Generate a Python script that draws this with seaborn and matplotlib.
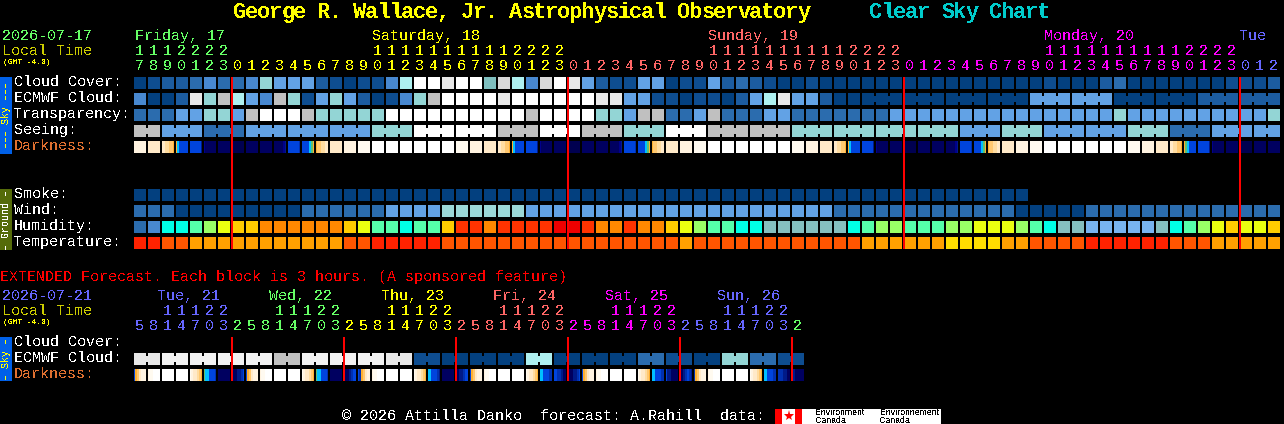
import numpy as np
import seaborn as sns
import matplotlib.pyplot as plt
from matplotlib.colors import ListedColormap
from matplotlib.patches import Rectangle

# Colour letters used by the row strings below
palette = {
    'a': '#03407f', 'b': '#0e4d90', 'c': '#1c5ca0', 'd': '#2b6cae', 'e': '#4888d0',
    'f': '#62a2e5', 'g': '#93d5d5', 'h': '#aef0f0', 'i': '#c0c0c0', 'j': '#e8e8e8',
    'k': '#ffffff', 'l': '#7fbfbf', 'm': '#d9d9d9', 'n': '#f2f2f2', 'G': '#9bd8d8',
    'x': '#00ffe6', 'z': '#55ffaa', 'L': '#99ff66', 'u': '#eaff10', 'A': '#ffcc00',
    'F': '#ff8800', 'I': '#ff3300', 'J': '#ee0000', 'T': '#85bfbf', 'K': '#78b4f0',
    'R': '#ff2200', 'U': '#ff5500', 'P': '#ffa000', 'V': '#ffdd00',
    'r': '#fffaf0', 'p': '#fff3e0', 'q': '#ffe9c8', 's': '#ffdca0', 't': '#ffc870',
    'o': '#ffb030', 'v': '#60c070', 'C': '#00c0ff', 'B': '#0044dd', 'D': '#0030b0',
    'E': '#001a88', 'H': '#00008b', 'N': '#000060', 'M': '#000050',
}

# 1-hour table, 82 blocks
main_hours = [17, 18, 19, 20, 21, 22, 23,
              0, 1, 2, 3, 4, 5, 6, 7, 8, 9, 10, 11, 12, 13, 14, 15, 16, 17, 18, 19, 20, 21, 22, 23,
              0, 1, 2, 3, 4, 5, 6, 7, 8, 9, 10, 11, 12, 13, 14, 15, 16, 17, 18, 19, 20, 21, 22, 23,
              0, 1, 2, 3, 4, 5, 6, 7, 8, 9, 10, 11, 12, 13, 14, 15, 16, 17, 18, 19, 20, 21, 22, 23,
              0, 1, 2]
cloud_cover = ("abccdeddegfffcbabbehk" "kjkklmhemkj" "fcbbffabbfcdcbaabaaa"
               "aaaaaaaaaaaaa" "b" "aaa" "c" "d" "aaaaaaa" "bbbc")
ecmwf_cloud = ("eaacjgihfeigbfgfcabeg" "i" "kkkk" "j" "kkkkkk" "jj" "ff" "bb" "a" "bb" "a" "c" "f" "h" "j"
               "ff" "c" "aa" "aaaaaaaaaaaa" "ffffff" "aaaaaa" "ccc" "ccc")
transparency = ("dddffggfikkkigggggkkk" "kkkkkkk" "i" "kkkk" "gg" "f" "ii" "dd" "f" "i" "ddd" "ff" "ddddd"
                "dd" "ffffffffffffffff" "g" "ffffffffff" "g")
seeing = ("ii" "fff" "ddd" "fffffffff" "ggg" "kkkkkk" "iii" "kkk" "iii" "ggg" "kkk" "iiiiii"
          "gggggggggggg" "fff" "ggg" "ffffff" "ggg" "ddd" "fffff")
darkness = ["p", "q", "qqsstto", "oCBBBBB", "BBBBBBE", "HNNNNNN", "N", "M", "N", "N", "NNNNNHE",
            "BBBBBBD", "BBBBCvo", "ottssqq", "q", "p", "r", "k", "k", "k", "k", "k", "k", "r",
            "p", "q", "qqsstto", "oCBBBBB", "BBBBBBE", "HNNNNNN", "N", "M", "N", "N", "NNNNNHE",
            "BBBBBBD", "BBBBCvo", "ottssqq", "q", "p", "r", "k", "k", "k", "k", "k", "k", "r",
            "p", "q", "qqsstto", "oCBBBBB", "BBBBBBE", "HNNNNNN", "N", "M", "N", "N", "NNNNNHE",
            "BBBBBBD", "BBBBCvo", "ottssqq", "q", "p", "r", "k", "k", "k", "k", "k", "k", "r",
            "p", "q", "qqsstto", "ovCBBBB", "BBBBBBE", "HNNNNNN", "N", "M", "N", "N"]
blank_row = " " * 82
smoke = "a" * 64 + " " * 18
wind = ("ddd" "aaaaaaaaa" "dddddd" "ffff" "GGGGGG" "ffffffffffffffffffffff" "dd" "ddddddddddd"
        "aaaaa" "dddddddddddddd")
humidity = ("dexxzLuAAFFFFFFAuzzxz" "zAIIFIIIIJJIFFIFFAuLzzxxTTTTTTx" "zLLzzzLLuuuLzxTTKKKKKTxzLuAuuA")
temperature = ("RR" "UU" "PPPPPPPPPPP" "UU" "RRRRR" "UUUUUUUUUUUUUUUUU" "P" "UUUUUUUUUUUU" "PPPPPP" "VVVV"
               "PP" "UUUU" "RRRRRR" "UUU" "PPPPP")

# Extended table, 48 blocks of 3 hours
ext_hours = [5, 8, 11, 14, 17, 20, 23,
             2, 5, 8, 11, 14, 17, 20, 23,
             2, 5, 8, 11, 14, 17, 20, 23,
             2, 5, 8, 11, 14, 17, 20, 23,
             2, 5, 8, 11, 14, 17, 20, 23,
             2, 5, 8, 11, 14, 17, 20, 23,
             2]
ext_cloud = " " * 48
ext_ecmwf = ("jj" "nn" "nn" "nn" "nn" "ii" "nn" "nn" "nn" "jj" "bb" "aa" "aa" "aa" "hh" "aa" "aa" "aa"
             "dd" "bb" "aa" "gg" "dd" "bb")
ext_dark = ["Botqppp", "prrkkkk", "k", "k", "rpqqsto", "vCCBBBD", "N", "NNNEEDB",
            "Botqppp", "prrkkkk", "k", "k", "rpqqsto", "vCCBBBD", "N", "NNNEDBB",
            "BDotqpp", "prrkkkk", "k", "k", "rpqqsto", "CCBBBDE", "N", "NNEEDBB",
            "Botqppp", "prrkkkk", "k", "k", "rpqqsto", "CCBBBDD", "BBDDENN", "NNNEEDB",
            "Botqppp", "prrkkkk", "k", "k", "rpqqsto", "CCBBBDD", "BEENNNN", "NNEDBDE",
            "Dotqppp", "prrkkkk", "k", "k", "rpqqsto", "CCBBBDD", "DDDEENN", "EENNNNN"]

main_rows = [cloud_cover, ecmwf_cloud, transparency, seeing, darkness, blank_row, blank_row,
             smoke, wind, humidity, temperature]
ext_rows = [ext_cloud, ext_ecmwf, ext_dark]

FONT = 'Liberation Mono'
GREEN, YELLOW, SALMON, MAGENTA, PERI = '#66ff66', '#ffff00', '#ff6666', '#ff00ff', '#6666ff'
main_day_colors = [GREEN] * 7 + [YELLOW] * 24 + [SALMON] * 24 + [MAGENTA] * 24 + [PERI] * 3
ext_day_colors = [PERI] * 7 + [GREEN] * 8 + [YELLOW] * 8 + [SALMON] * 8 + [MAGENTA] * 8 + [PERI] * 8 + [GREEN]

plt.rcParams['text.antialiased'] = False
plt.rcParams['font.family'] = [FONT, 'DejaVu Sans']

keys = list(palette)
cmap = ListedColormap([palette[k] for k in keys])
SUB = 7  # sub-columns per block, so darkness can change inside a block
PX = 72 / 100  # points per pixel


def expand(rows):
    out = []
    for row in rows:
        line = []
        for cell in row:
            cell = cell * SUB if len(cell) == 1 else cell
            line += [np.nan if c == ' ' else keys.index(c) for c in cell]
        out.append(line)
    return np.array(out, dtype=float)


def panel(fig, left, top, rows, cols):
    ax = fig.add_axes([left / 1284, 1 - (top + rows * 16) / 424, cols * 14 / 1284, rows * 16 / 424])
    ax.set_facecolor('black')
    return ax


def draw_table(ax, rows):
    data = expand(rows)
    sns.heatmap(data, cmap=cmap, vmin=-0.5, vmax=len(keys) - 0.5, cbar=False,
                xticklabels=False, yticklabels=False, ax=ax)
    ax.vlines(np.arange(0, data.shape[1] + 1, SUB), 0, data.shape[0], color='black', lw=2 * PX)
    ax.hlines(np.arange(data.shape[0] + 1), 0, data.shape[1], color='black', lw=4 * PX)


def bridges(ax, row_index, row, starts):
    # join the blocks of one forecast step with a narrow neck
    for c in range(len(row) - 1):
        if c + 1 in starts or row[c] == ' ':
            continue
        ax.hlines(row_index + 0.5, SUB * (c + 1) - 1, SUB * (c + 1) + 1, color=palette[row[c]],
                  lw=6 * PX, capstyle='butt')


def midnights(hours):
    return [i for i in range(1, len(hours)) if hours[i] < hours[i - 1]]


fig = plt.figure(figsize=(12.84, 4.24), dpi=100, facecolor='black')

ax_main = panel(fig, 133, 75, len(main_rows), len(main_hours))
draw_table(ax_main, main_rows)
bridges(ax_main, 1, ecmwf_cloud, set(range(0, 53)) | set(range(52, 82, 3)))
bridges(ax_main, 3, seeing, set(range(2, 82, 3)))
for c in midnights(main_hours):
    ax_main.vlines(SUB * c + 0.5, 2 / 16, 11 - 2 / 16, color='#ff0000', lw=2 * PX, zorder=5)

ax_ext = panel(fig, 133, 335, len(ext_rows), len(ext_hours))
draw_table(ax_ext, ext_rows)
bridges(ax_ext, 1, ext_ecmwf, set(range(0, 48, 2)))
for c in midnights(ext_hours):
    ax_ext.vlines(SUB * c + 0.5, 2 / 16, 3 - 2 / 16, color='#ff0000', lw=2 * PX, zorder=5)

# Everything else is placed in pixels on a full-figure overlay
ov = fig.add_axes([0, 0, 1, 1], facecolor='none')
ov.set_xlim(0, 1284)
ov.set_ylim(424, 0)
ov.axis('off')


def label(x, y, s, color='white', size=15, **kw):
    ov.text(x, y, s, color=color, fontsize=size * PX, va='baseline', ha=kw.pop('ha', 'left'), **kw)


def title_text(x, s, color):
    # the reference title is taller than its 12 px pitch allows in this font
    for i, ch in enumerate(s):
        label(x + 12 * i + 6, 18, ch, color, 22, ha='center', fontweight='bold')


title_text(234, 'George R. Wallace, Jr. Astrophysical Observatory', '#ffff00')
title_text(870, 'Clear Sky Chart', '#00cccc')

label(2, 40, '2026-07-17', GREEN)
label(2, 55, 'Local Time', '#cccc00')
label(3, 64, '(GMT -4.0)', '#ffff00', 8)
for x, s, col in [(135, 'Friday, 17', GREEN), (372, 'Saturday, 18', YELLOW), (708, 'Sunday, 19', SALMON),
                  (1044, 'Monday, 20', MAGENTA), (1240, 'Tue', PERI)]:
    label(x, 40, s, col)
for i, h in enumerate(main_hours):
    if h >= 10:
        label(139.5 + 14 * i, 55, str(h // 10), main_day_colors[i], ha='center')
    label(139.5 + 14 * i, 70, str(h % 10), main_day_colors[i], ha='center')

main_labels = ['Cloud Cover:', 'ECMWF Cloud:', 'Transparency:', 'Seeing:', 'Darkness:', '', '',
               'Smoke:', 'Wind:', 'Humidity:', 'Temperature:']
for k, s in enumerate(main_labels):
    label(14, 86 + 16 * k, s, '#e07030' if s == 'Darkness:' else 'white')

label(0, 281, 'EXTENDED Forecast. Each block is 3 hours. (A sponsored feature)', '#ff0000')
label(2, 300, '2026-07-21', PERI)
label(2, 315, 'Local Time', '#cccc00')
label(3, 324, '(GMT -4.0)', '#ffff00', 8)
for x, s, col in [(157, 'Tue, 21', PERI), (269, 'Wed, 22', GREEN), (381, 'Thu, 23', YELLOW),
                  (493, 'Fri, 24', SALMON), (605, 'Sat, 25', MAGENTA), (717, 'Sun, 26', PERI)]:
    label(x, 300, s, col)
for i, h in enumerate(ext_hours):
    if h >= 10:
        label(139.5 + 14 * i, 315, str(h // 10), ext_day_colors[i], ha='center')
    label(139.5 + 14 * i, 330, str(h % 10), ext_day_colors[i], ha='center')
for k, s in enumerate(['Cloud Cover:', 'ECMWF Cloud:', 'Darkness:']):
    label(14, 346 + 16 * k, s, '#e07030' if s == 'Darkness:' else 'white')

# Side tabs
for top, bottom, col, txt, tcol in [(77, 154, '#0060e8', '\u2013\u2013\u2013 Sky \u2013\u2013\u2013', '#ffff00'),
                                    (189, 250, '#556b0a', '\u2013 Ground \u2013', '#ffffff'),
                                    (337, 381, '#0060e8', '\u2013 Sky \u2013', '#ffff00')]:
    ov.add_patch(Rectangle((0, top), 12, bottom - top, color=col, lw=0))
    ov.text(6, (top + bottom) / 2, txt, color=tcol, fontsize=10 * PX, rotation=90, ha='center', va='center')

# Footer with the data source logo
label(342, 420, '\u00a9 2026 Attilla Danko  forecast: A.Rahill  data:')
ov.add_patch(Rectangle((775, 409), 166, 15, color='white', lw=0))
ov.add_patch(Rectangle((775, 409), 7, 15, color='#ff0000', lw=0))
ov.add_patch(Rectangle((795, 409), 7, 15, color='#ff0000', lw=0))
ov.plot([788.5], [416], marker='*', color='#ff0000', ms=8, mew=0)
for x, s in [(815, 'Environment'), (880, 'Environnement')]:
    ov.text(x, 415, s, color='black', fontsize=6.3, family='Liberation Sans', va='baseline')
    ov.text(x, 423, 'Canada', color='black', fontsize=6.3, family='Liberation Sans', va='baseline')

fig.savefig('out.png', dpi=100, facecolor='black')
